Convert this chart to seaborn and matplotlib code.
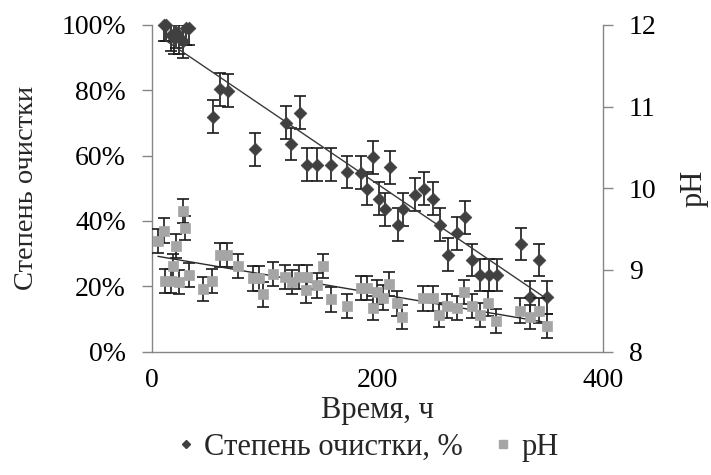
import numpy as np
import matplotlib
matplotlib.use("Agg")
import matplotlib.pyplot as plt
import seaborn as sns
from matplotlib.lines import Line2D
from matplotlib.ticker import FuncFormatter

# ---------------------------------
# DATA
# ---------------------------------

time_clean = [10, 12, 17, 19, 21, 24, 27, 30, 33, 53.6, 60.1, 67, 91.2,
              118.5, 123.2, 131.2, 137.1, 146, 158.4, 173.2, 185.1, 190.4,
              195.7, 201, 206.4, 211.2, 218.2, 222.9, 233, 241.3, 249, 255.5,
              262.6, 270.9, 277.4, 284, 291, 298.7, 305.9, 327.2, 335.4,
              343.7, 350.3]
clean_pct = [100, 100, 97, 96, 98, 96, 95, 99, 99, 71.9, 80.3, 79.9, 61.9,
             70.1, 63.6, 73.1, 57.2, 57.2, 57.2, 55, 54.8, 49.9,
             59.5, 46.8, 43.5, 56.4, 38.8, 43.5, 48, 49.9, 46.8, 38.8,
             29.7, 36.2, 41.1, 28, 23.4, 23.4, 23.4, 32.9, 16.6,
             28, 16.6]
clean_err = 5

time_ph = [5, 10, 11, 17, 18, 21, 24, 27.5, 29, 33, 45, 53, 60, 66.5, 76.5,
           89.7, 95, 98.6, 107.5, 118, 123.8, 130.6, 136.5, 137.7, 146, 152,
           158.4, 172.6, 185.1, 190.4, 195.7, 199.3, 205.2, 210.5, 217.6,
           221.8, 240.7, 249.6, 254.9, 262, 270.9, 276.8, 284.2, 291, 298.4,
           305.2, 326.6, 335.4, 343.7, 350.3]
ph = [9.355, 9.48, 8.865, 8.865, 9.045, 9.29, 8.85, 9.72, 9.51, 8.935, 8.765,
      8.865, 9.18, 9.18, 9.045, 8.895, 8.895, 8.70, 8.95, 8.915, 8.85, 8.915,
      8.75, 8.915, 8.81, 9.045, 8.64, 8.555, 8.78, 8.78, 8.53, 8.73, 8.66,
      8.83, 8.59, 8.42, 8.65, 8.65, 8.45, 8.555, 8.53, 8.73, 8.555, 8.45,
      8.59, 8.375, 8.50, 8.42, 8.50, 8.31]
ph_err = 0.15

x_ticks = [0, 200, 400]
pct_ticks = [0, 20, 40, 60, 80, 100]
ph_ticks = [8, 9, 10, 11, 12]

# ---------------------------------
# STYLE
# ---------------------------------

sns.set_style("white")
plt.rcParams["font.family"] = ["Liberation Serif", "DejaVu Serif"]

dark = "#404040"
light = "#a5a5a5"
axis_col = "#868686"
fs_tick = 20
fs_lab = 22

fig, ax = plt.subplots(figsize=(7.11, 4.75), dpi=100)
fig.subplots_adjust(left=0.2142, right=0.8477, top=0.9474, bottom=0.26)
ax2 = ax.twinx()

# ---------------------------------
# CLEANING DEGREE (left axis)
# ---------------------------------

ax.errorbar(time_clean, clean_pct, yerr=clean_err, fmt="none",
            ecolor="#1a1a1a", elinewidth=1.2, capsize=4.3, capthick=1.2,
            zorder=2)
sns.scatterplot(x=time_clean, y=clean_pct, marker="D", s=42, color=dark,
                edgecolor=dark, linewidth=0.5, ax=ax, zorder=3, clip_on=False)
sns.regplot(x=time_clean, y=clean_pct, scatter=False, ci=None, truncate=True,
            line_kws={"color": "#3a3a3a", "lw": 1.0}, ax=ax)

# ---------------------------------
# pH (right axis)
# ---------------------------------

ax2.errorbar(time_ph, ph, yerr=ph_err, fmt="none",
             ecolor="#1a1a1a", elinewidth=1.2, capsize=4.3, capthick=1.2,
             zorder=2)
sns.scatterplot(x=time_ph, y=ph, marker="s", s=58, color=light,
                edgecolor=light, linewidth=0.5, ax=ax2, zorder=3)
sns.regplot(x=time_ph, y=ph, scatter=False, ci=None, truncate=True,
            line_kws={"color": "#2a2a2a", "lw": 1.0}, ax=ax2)

# ---------------------------------
# AXES
# ---------------------------------

ax.set_xlim(0, 400)
ax.set_ylim(0, 100)
ax2.set_ylim(8, 12)
ax.set_xticks(x_ticks)
ax.set_yticks(pct_ticks)
ax2.set_yticks(ph_ticks)
ax.yaxis.set_major_formatter(FuncFormatter(lambda v, p: f"{v:.0f}%"))

for a in (ax, ax2):
    a.spines["top"].set_visible(False)
    for s in ("left", "right", "bottom"):
        a.spines[s].set_color(axis_col)
        a.spines[s].set_linewidth(1.0)
    a.tick_params(direction="out", length=7, width=1.0, color=axis_col,
                  labelsize=fs_tick, labelcolor="black")
    a.set_xlabel("")
    a.set_ylabel("")

ax.spines["right"].set_visible(False)
ax2.spines["left"].set_visible(False)
ax2.spines["bottom"].set_visible(False)
ax.tick_params(axis="x", pad=5)
ax.tick_params(axis="y", pad=12)
ax2.tick_params(axis="y", pad=12)

ax.set_xlabel("Время, ч", fontsize=fs_lab, labelpad=2)
ax.set_ylabel("Степень очистки", fontsize=20.5, labelpad=16)
ax2.set_ylabel("pH", fontsize=fs_lab, labelpad=16)

# ---------------------------------
# LEGEND
# ---------------------------------

handles = [
    Line2D([], [], ls="none", marker="D", ms=4, color=dark),
    Line2D([], [], ls="none", marker="s", ms=6, color=light),
]
fig.legend(handles, ["Степень очистки, %", "pH"], loc="lower center",
           bbox_to_anchor=(0.515, -0.03), ncol=2, frameon=False,
           fontsize=fs_lab, handletextpad=0.2, columnspacing=0.9,
           handlelength=0.8)

fig.savefig("out.png", dpi=100)
